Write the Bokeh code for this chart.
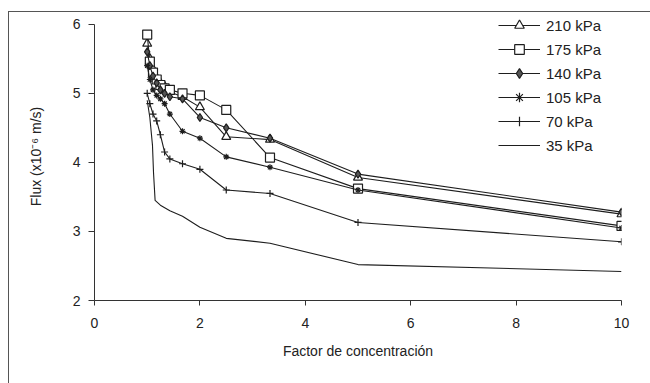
from bokeh.plotting import figure
from bokeh.models import Legend, LegendItem, Range1d, FixedTicker
from bokeh.embed import file_html
from bokeh.resources import INLINE

# Concentration factor (x) and flux values (y, x10^-6 m/s) for each pressure
x_210 = [1.0, 1.05, 1.11, 1.18, 1.25, 1.33, 1.43, 1.67, 2.0, 2.5, 3.33, 5.0, 10.0]
y_210 = [5.72, 5.5, 5.35, 5.22, 5.15, 5.1, 5.02, 4.95, 4.8, 4.37, 4.33, 3.78, 3.25]

x_175 = [1.0, 1.05, 1.11, 1.18, 1.25, 1.33, 1.43, 1.67, 2.0, 2.5, 3.33, 5.0, 10.0]
y_175 = [5.85, 5.46, 5.3, 5.2, 5.12, 5.07, 5.05, 5.0, 4.97, 4.76, 4.07, 3.62, 3.08]

x_140 = [1.0, 1.05, 1.11, 1.18, 1.25, 1.33, 1.43, 1.67, 2.0, 2.5, 3.33, 5.0, 10.0]
y_140 = [5.6, 5.4, 5.25, 5.15, 5.05, 5.0, 4.95, 4.92, 4.65, 4.5, 4.35, 3.83, 3.28]

x_105 = [1.0, 1.05, 1.11, 1.18, 1.25, 1.33, 1.43, 1.67, 2.0, 2.5, 3.33, 5.0, 10.0]
y_105 = [5.4, 5.2, 5.05, 4.97, 4.92, 4.85, 4.7, 4.45, 4.35, 4.08, 3.93, 3.6, 3.05]

x_70 = [1.0, 1.05, 1.11, 1.18, 1.25, 1.33, 1.43, 1.67, 2.0, 2.5, 3.33, 5.0, 10.0]
y_70 = [5.0, 4.85, 4.7, 4.6, 4.4, 4.15, 4.05, 3.98, 3.9, 3.6, 3.55, 3.13, 2.85]

x_35 = [1.0, 1.05, 1.1, 1.12, 1.15, 1.25, 1.43, 1.67, 2.0, 2.5, 3.33, 5.0, 10.0]
y_35 = [4.9, 4.65, 4.25, 3.85, 3.45, 3.38, 3.3, 3.22, 3.06, 2.9, 2.83, 2.52, 2.42]

labels = ["210 kPa", "175 kPa", "140 kPa", "105 kPa", "70 kPa", "35 kPa"]
x_ticks = [0, 2, 4, 6, 8, 10]
y_ticks = [2, 3, 4, 5, 6]

FONT = "Liberation Sans"
LINE = "#1e1e1e"

# frame: 276 px for 4 y-units; extra headroom above 6 so the legend fits in the frame
p = figure(width=650, height=383, output_backend="svg", toolbar_location=None,
           x_range=Range1d(0, 10), y_range=Range1d(2, 6.17),
           min_border_left=94, min_border_right=29, min_border_top=12, min_border_bottom=83)
p.outline_line_color = None
p.xgrid.visible = False
p.ygrid.visible = False
p.background_fill_color = "white"
p.border_fill_color = None
p.styles = {
    "background-color": "white",
    "background-image": "linear-gradient(#555, #555), linear-gradient(#555, #555)",
    "background-size": "1px 100%, 100% 1px",
    "background-position": "8px 11px, 8px 11px",
    "background-repeat": "no-repeat",
}

for ax in (p.xaxis[0], p.yaxis[0]):
    ax.axis_line_color = "#333"
    ax.major_tick_line_color = "#333"
    ax.minor_tick_line_color = None
    ax.major_tick_in = 0
    ax.major_label_text_font = FONT
    ax.major_label_text_font_size = "14px"
    ax.major_label_text_color = "#222"
    ax.axis_label_text_font = FONT
    ax.axis_label_text_font_size = "14px"
    ax.axis_label_text_font_style = "normal"
    ax.axis_label_text_color = "#222"

p.yaxis.bounds = (2, 6)
p.xaxis.ticker = FixedTicker(ticks=x_ticks)
p.yaxis.ticker = FixedTicker(ticks=y_ticks)
p.xaxis.major_tick_out = 5
p.yaxis.major_tick_out = 6
p.xaxis.major_label_standoff = 12
p.yaxis.major_label_standoff = 8
p.xaxis.axis_label = "Factor de concentración"
p.yaxis.axis_label = "Flux (x10⁻⁶ m/s)"
p.xaxis.axis_label_standoff = 12
p.yaxis.axis_label_standoff = 26

items = []

def series(xs, ys, label, marker=None, size=7, fill="white", lw=1.1):
    rs = [p.line(xs, ys, line_color=LINE, line_width=lw)]
    if marker:
        rs.append(p.scatter(xs, ys, marker=marker, size=size, line_color=LINE,
                            fill_color=fill, line_width=1.2))
    items.append(LegendItem(label=label, renderers=rs))

series(x_210, y_210, labels[0], "triangle", 9, "white")
series(x_175, y_175, labels[1], "square", 9, "white")
series(x_140, y_140, labels[2], "diamond", 8, "#555")
series(x_105, y_105, labels[3], "asterisk", 6, None)
series(x_70, y_70, labels[4], "cross", 7, None)
series(x_35, y_35, labels[5])

legend = Legend(items=items, location=(404, 143), padding=0, margin=0, spacing=0,
                glyph_width=42, glyph_height=24, label_height=24, label_standoff=6,
                label_text_font=FONT, label_text_font_size="15px", label_text_color="#222",
                border_line_color=None, background_fill_alpha=0)
p.add_layout(legend, "center")

open("out.html", "w").write(file_html(p, INLINE))
